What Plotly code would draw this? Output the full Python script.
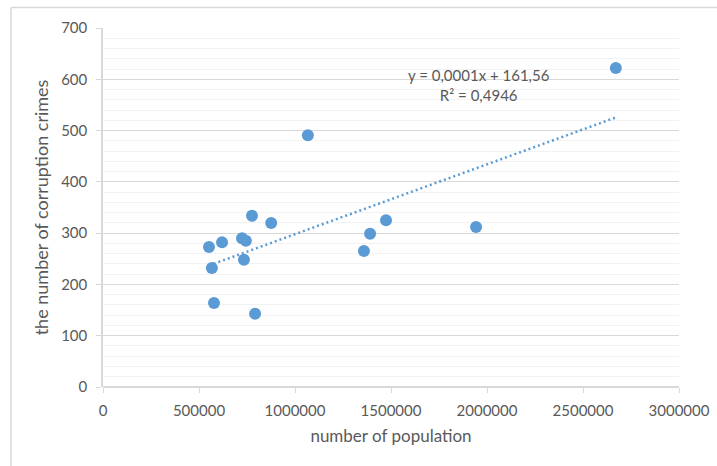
import numpy as np
import plotly.graph_objects as go

population = [2671000, 1067000, 552000, 567000, 578000, 620000, 724000, 744000,
              734000, 776000, 792000, 876000, 1359000, 1391000, 1474000, 1943000]
crimes = [622, 491, 273, 232, 164, 282, 290, 285, 248, 334, 143, 320, 265, 299, 325, 312]

x_ticks = [0, 500000, 1000000, 1500000, 2000000, 2500000, 3000000]
y_ticks = [0, 100, 200, 300, 400, 500, 600, 700]
equation_text = "y = 0,0001x + 161,56<br>R² = 0,4946"

x_arr = np.array(population, dtype=float)
y_arr = np.array(crimes, dtype=float)
slope, intercept = np.polyfit(x_arr, y_arr, 1)
trend_x = [x_arr.min(), x_arr.max()]
trend_y = [slope * v + intercept for v in trend_x]

blue = "#5b9bd5"
gray_text = "#595959"
font_family = "Lato, 'Open Sans', sans-serif"

fig = go.Figure()
fig.add_trace(go.Scatter(x=trend_x, y=trend_y, mode="lines",
                         line=dict(color=blue, width=2.5, dash="2px,3px"),
                         hoverinfo="skip", showlegend=False))
fig.add_trace(go.Scatter(x=population, y=crimes, mode="markers",
                         marker=dict(color=blue, size=12, line=dict(width=0)),
                         showlegend=False))

fig.update_layout(
    width=717, height=466,
    margin=dict(l=103, r=38, t=28, b=79, autoexpand=False),
    paper_bgcolor="white", plot_bgcolor="white",
    font=dict(family=font_family, color=gray_text),
    showlegend=False,
    xaxis=dict(range=[0, 3000000], tickvals=x_ticks, ticktext=[str(v) for v in x_ticks],
               automargin=False,
               showgrid=False, zeroline=False, showline=False,
               ticks="outside", ticklen=5, tickcolor="#d9d9d9", tickwidth=1,
               ticklabelstandoff=5,
               tickfont=dict(size=15, color=gray_text),
               title=dict(text="number of population", font=dict(size=17, color=gray_text), standoff=12)),
    yaxis=dict(range=[0, 700], tickvals=y_ticks,
               automargin=False,
               showgrid=True, gridcolor="#d9d9d9", gridwidth=1,
               minor=dict(dtick=20, showgrid=True, gridcolor="#f2f2f2", gridwidth=1),
               zeroline=True, zerolinecolor="#d9d9d9", zerolinewidth=1.5,
               showline=True, linecolor="#d9d9d9", linewidth=1.5,
               ticks="outside", ticklen=5, tickcolor="#d9d9d9", tickwidth=1,
               ticklabelstandoff=6,
               tickfont=dict(size=15, color=gray_text),
               title=dict(text="the number of corruption crimes", font=dict(size=18, color=gray_text), standoff=8)),
)

fig.add_annotation(x=1958000, y=588, xref="x", yref="y", text=equation_text,
                   showarrow=False, align="center",
                   font=dict(size=15, color=gray_text, family=font_family))

# chart frame (Excel chart area border)
fx = (11 - 103) / 576
fy = (387 - 7.5) / 359
fig.add_shape(type="line", xref="paper", yref="paper", x0=fx, x1=fx, y0=-0.5, y1=fy,
              line=dict(color="#d9d9d9", width=1.5))
fig.add_shape(type="line", xref="paper", yref="paper", x0=fx, x1=1.2, y0=fy, y1=fy,
              line=dict(color="#d9d9d9", width=1.5))

fig.write_html("out.html", config={"displayModeBar": False},
               post_script="document.body.style.margin='0';document.body.style.overflow='hidden';")
